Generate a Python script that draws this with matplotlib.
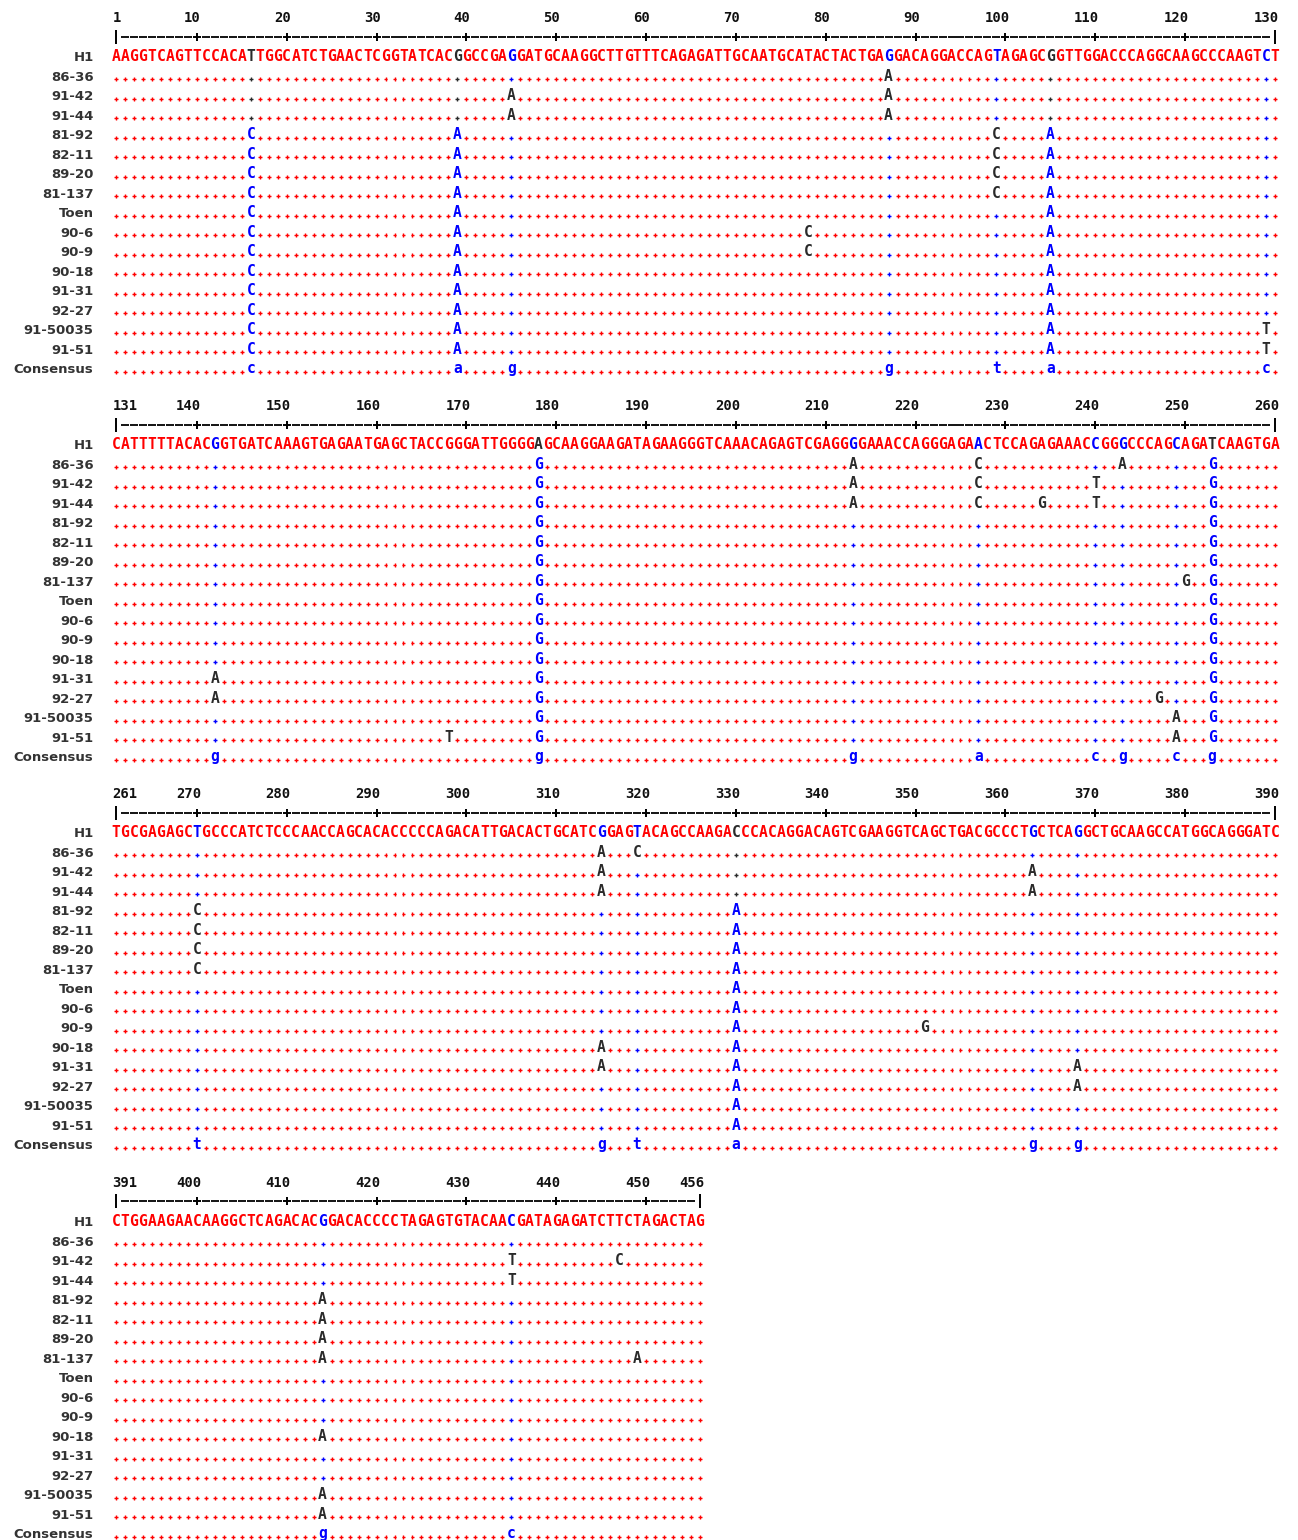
import matplotlib
matplotlib.use("Agg")
import matplotlib.pyplot as plt

# sequence names, top to bottom (H1 is the reference row)
names = ["H1", "86-36", "91-42", "91-44", "81-92", "82-11", "89-20", "81-137",
         "Toen", "90-6", "90-9", "90-18", "91-31", "92-27", "91-50035", "91-51"]

# H1 sequence, one string per block
h1_blocks = [
    "AAGGTCAGTTCCACATTGGCATCTGAACTCGGTATCACGGCCGAGGATGCAAGGCTTGTTTCAGAGATTG"
    "CAATGCATACTACTGAGGACAGGACCAGTAGAGCGGTTGGACCCAGGCAAGCCCAAGTCT",
    "CATTTTTACACGGTGATCAAAGTGAGAATGAGCTACCGGGATTGGGGAGCAAGGAAGATAGAAGGGTCAA"
    "ACAGAGTCGAGGGGAAACCAGGGAGAACTCCAGAGAAACCGGGCCCAGCAGATCAAGTGA",
    "TGCGAGAGCTGCCCATCTCCCAACCAGCACACCCCCAGACATTGACACTGCATCGGAGTACAGCCAAGAC"
    "CCACAGGACAGTCGAAGGTCAGCTGACGCCCTGCTCAGGCTGCAAGCCATGGCAGGGATC",
    "CTGGAAGAACAAGGCTCAGACACGGACACCCCTAGAGTGTACAACGATAGAGATCTTCTAGACTAG",
]
h1 = "".join(h1_blocks)

block_starts = [1, 131, 261, 391]
block_ends = [130, 260, 390, 456]

# differences from H1, "position + base"
variants = {
    "86-36": "87A 178G 213A 227C 243A 253G 315A 319C",
    "91-42": "45A 87A 178G 213A 227C 240T 253G 315A 363A 435T 447C",
    "91-44": "45A 87A 178G 213A 227C 234G 240T 253G 315A 363A 435T",
    "81-92": "16C 39A 99C 105A 178G 253G 270C 330A 414A",
    "82-11": "16C 39A 99C 105A 178G 253G 270C 330A 414A",
    "89-20": "16C 39A 99C 105A 178G 253G 270C 330A 414A",
    "81-137": "16C 39A 99C 105A 178G 250G 253G 270C 330A 414A 449A",
    "Toen": "16C 39A 105A 178G 253G 330A",
    "90-6": "16C 39A 78C 105A 178G 253G 330A",
    "90-9": "16C 39A 78C 105A 178G 253G 330A 351G",
    "90-18": "16C 39A 105A 178G 253G 315A 330A 414A",
    "91-31": "16C 39A 105A 142A 178G 253G 315A 330A 368A",
    "92-27": "16C 39A 105A 142A 178G 247G 253G 330A 368A",
    "91-50035": "16C 39A 105A 129T 178G 249A 253G 330A 414A",
    "91-51": "16C 39A 105A 129T 168T 178G 249A 253G 330A 414A",
}

# low-consensus columns and their consensus base
cons_pos = [16, 39, 45, 87, 99, 105, 129, 142, 178, 213, 227, 240, 243, 249, 253,
            270, 315, 319, 330, 363, 368, 414, 435]
cons_base = ["c", "a", "g", "g", "t", "a", "c", "g", "g", "g", "a", "c", "g", "c", "g",
             "t", "g", "t", "a", "g", "g", "g", "c"]

RED = "#ff0000"
BLUE = "#0000ff"
DARK = "#2a2a2a"

diffs = {}
for name, s in variants.items():
    diffs[name] = {int(tok[:-1]): tok[-1] for tok in s.split()}
cons_map = dict(zip(cons_pos, cons_base))

W, H = 1298, 1540
fig = plt.figure(figsize=(W / 100, H / 100), dpi=100)
fig.patch.set_facecolor("white")

col_w = 8.984
row_h = 19.5
x_first = 116
h1_y = [56, 444, 832, 1221]

seq_font = dict(family="DejaVu Sans Mono", fontsize=10.5, fontweight="bold")
num_font = dict(family="DejaVu Sans Mono", fontsize=10, fontweight="bold", color="#111111")
name_font = dict(family="DejaVu Sans", fontsize=9.5, fontweight="bold", color="#333333")
base_off = 0.28

all_rows = names + ["Consensus"]

for b in range(4):
    start, end = block_starts[b], block_ends[b]
    left_px = x_first - 0.5 * col_w
    right_px = x_first + 129.5 * col_w
    top_px = h1_y[b] - 2.7 * row_h
    bot_px = h1_y[b] + 16.6 * row_h
    ax = fig.add_axes([left_px / W, 1 - bot_px / H,
                       (right_px - left_px) / W, (bot_px - top_px) / H])
    ax.set_xlim(start - 0.5, start + 129.5)
    ax.set_ylim(16.6, -2.7)
    ax.axis("off")

    cols = list(range(start, end + 1))

    # ruler
    ticks = [p for p in cols if p % 10 == 0 and p != end]
    dashes = [p for p in cols if p not in ticks and p not in (start, end)]
    ax.scatter(dashes, [-1] * len(dashes), marker="_", s=30, linewidths=1.3, c="black")
    ax.scatter(ticks, [-1] * len(ticks), marker="+", s=26, linewidths=1.4, c="black")
    ax.scatter([start, end], [-1, -1], marker="|", s=90, linewidths=1.4, c="black")
    ax.text(start - 0.4, -2 + base_off, str(start), ha="left", va="baseline", **num_font)
    for p in ticks + [end]:
        ax.text(p + 0.45, -2 + base_off, str(p), ha="right", va="baseline", **num_font)

    # row names
    for r, name in enumerate(all_rows):
        ax.text(start - 2.5, r + base_off, name, ha="right", va="baseline",
                clip_on=False, **name_font)

    dot_x, dot_y, dot_c = [], [], []
    for p in cols:
        base = h1[p - 1]
        cons = cons_map.get(p)
        if cons is None:
            colc = RED
        elif base == cons.upper():
            colc = BLUE
        else:
            colc = DARK
        ax.text(p, base_off, base, ha="center", va="baseline", color=colc, **seq_font)

        for r, name in enumerate(names[1:], start=1):
            v = diffs[name].get(p)
            if v:
                vc = BLUE if (cons is not None and v == cons.upper()) else DARK
                ax.text(p, r + base_off, v, ha="center", va="baseline", color=vc, **seq_font)
            else:
                dot_x.append(p)
                dot_y.append(r)
                dot_c.append(colc)

        if cons is not None:
            ax.text(p, 16 + base_off, cons, ha="center", va="baseline", color=BLUE, **seq_font)
        else:
            dot_x.append(p)
            dot_y.append(16)
            dot_c.append(RED)

    ax.scatter(dot_x, [y + 0.2 for y in dot_y], c=dot_c, marker="+", s=8, linewidths=1.0)

plt.savefig("out.png", dpi=100)
